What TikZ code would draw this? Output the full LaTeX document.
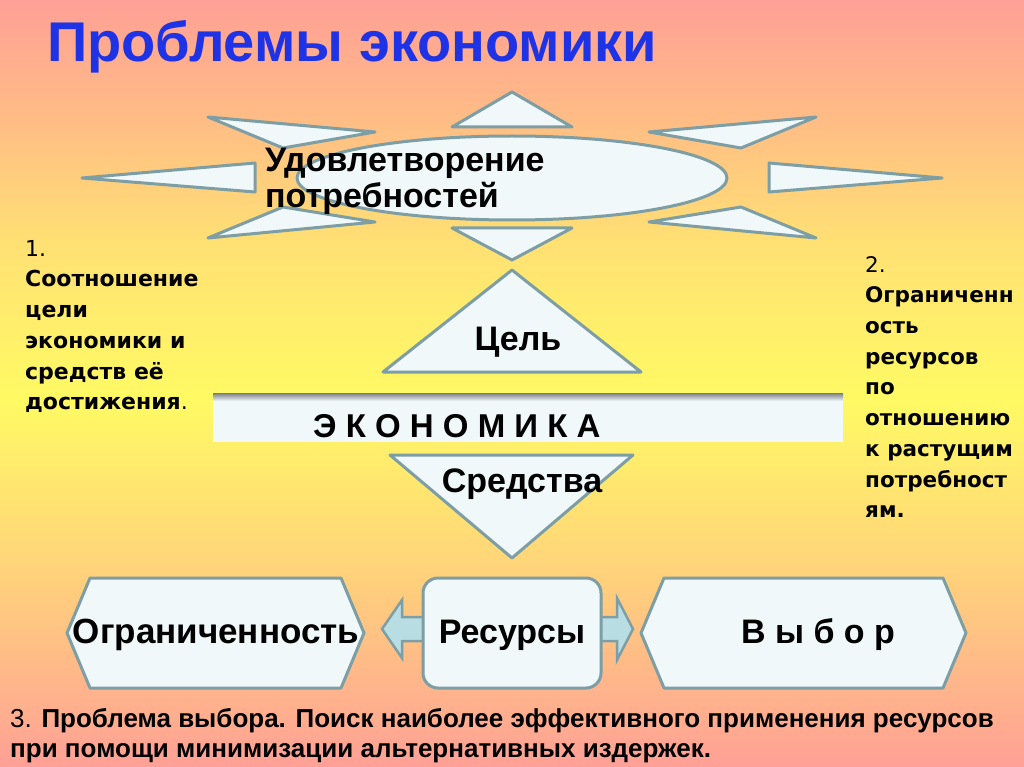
\documentclass[tikz,border=0pt]{standalone}
\usepackage{fontspec}
\setmainfont{Liberation Sans}
\newfontfamily\dejavu{DejaVu Sans}
\usetikzlibrary{calc,shapes.geometric}
\definecolor{bgtop}{RGB}{255,160,150}
\definecolor{bgA}{RGB}{255,185,135}
\definecolor{bgB}{RGB}{255,225,115}
\definecolor{bgY}{RGB}{255,250,100}
\definecolor{bgC}{RGB}{255,215,120}
\definecolor{bgbot}{RGB}{255,160,150}
\definecolor{shfill}{RGB}{240,248,250}
\definecolor{shline}{RGB}{125,158,165}
\definecolor{arrfill}{RGB}{184,222,228}
\definecolor{titleblue}{RGB}{30,50,230}
\definecolor{barshadow}{RGB}{120,125,130}
\pgfdeclareverticalshading{bgshade}{100bp}{color(0bp)=(bgbot); color(25bp)=(bgbot); color(39bp)=(bgC); color(49bp)=(bgY); color(59bp)=(bgB); color(68bp)=(bgA); color(75bp)=(bgtop); color(100bp)=(bgtop)}
\begin{document}
\begin{tikzpicture}[x=1pt,y=-1pt,
  sunpart/.style={fill=shfill, draw=shline, line width=3pt, line join=round},
  arrpart/.style={fill=arrfill, draw=shline, line width=2.5pt, line join=miter},
  lbl/.style={inner sep=0pt, font=\bfseries\fontsize{34}{40}\selectfont},
  side/.style={inner sep=0pt, align=left, font=\dejavu\fontsize{21.5}{30.7}\selectfont}]
\shade[shading=bgshade] (0,0) rectangle (1024,767);
\useasboundingbox (0,0) rectangle (1024,767);

% title
\node[anchor=base west, inner sep=0pt, text=titleblue, font=\bfseries\fontsize{56}{60}\selectfont] (title) at (47,62) {Проблемы экономики};

% sun rays
\path[sunpart] (512,92) -- (572,127) -- (452,127) -- cycle;
\path[sunpart] (452,228) -- (572,228) -- (512,260) -- cycle;
\path[sunpart] (82,178) -- (255,163) -- (255,192) -- cycle;
\path[sunpart] (942,178) -- (769,163) -- (769,192) -- cycle;
\path[sunpart] (208,117) -- (375,132) -- (283,148) -- cycle;
\path[sunpart] (816,117) -- (649,132) -- (741,148) -- cycle;
\path[sunpart] (208,238) -- (375,222) -- (283,207) -- cycle;
\path[sunpart] (816,238) -- (649,222) -- (741,207) -- cycle;
\node[sunpart, ellipse, minimum width=430pt, minimum height=84pt, inner sep=0pt] (sun) at (512,178) {};
\node[lbl, anchor=base west] (need1) at (265,172) {Удовлетворение};
\node[lbl, anchor=base west] (need2) at (265,208) {потребностей};

% goal triangle
\path[sunpart] (512,270) -- (641,372) -- (383,372) -- cycle;
\node[lbl, anchor=base] (goal) at (518,350) {Цель};

% economy bar
\path[fill=shfill] (213,393) rectangle (843,442);
\shade[top color=barshadow, bottom color=shfill] (213,393) rectangle (843,401);
\node[anchor=base west, inner sep=0pt, font=\bfseries\fontsize{33}{36}\selectfont] (econ) at (313,437) {Э К О Н О М И К А};

% means triangle
\path[sunpart] (390,455) -- (633,455) -- (512,558) -- cycle;
\node[lbl, anchor=base] (means) at (522,492) {Средства};

% double arrow
\coordinate (arrL) at (382,629);
\coordinate (arrR) at (633,629);
\path[arrpart] (arrL) -- ++(20,-29) -- ++(0,17) -- ++(215,0) -- ++(0,-19) -- (arrR) -- ++(-16,31) -- ++(0,-19) -- ++(-215,0) -- ++(0,17) -- cycle;

% bottom shapes
\path[sunpart] (67,633) -- (90,578) -- (341,578) -- (364,633) -- (341,688) -- (90,688) -- cycle;
\node[lbl, anchor=base, font=\bfseries\fontsize{35}{40}\selectfont] (limit) at (216,643) {Ограниченность};
\node[sunpart, rounded corners=15pt, minimum width=178pt, minimum height=110pt, inner sep=0pt] (resbox) at (512,633) {};
\node[lbl, anchor=base] (res) at (512,643) {Ресурсы};
\path[sunpart] (641,633) -- (664,578) -- (943,578) -- (966,633) -- (943,688) -- (664,688) -- cycle;
\node[lbl, anchor=base] (choice) at (818,643) {В ы б о р};

% side texts
\node[side, anchor=north west, font=\dejavu\fontsize{22}{30.7}\selectfont] (left) at (25,240) {1.\\\textbf{Соотношение}\\\textbf{цели}\\\textbf{экономики и}\\\textbf{средств её}\\\textbf{достижения}.};
\node[side, anchor=north west] (right) at (865,256) {2.\\\textbf{Ограниченн}\\\textbf{ость}\\\textbf{ресурсов}\\\textbf{по}\\\textbf{отношению}\\\textbf{к растущим}\\\textbf{потребност}\\\textbf{ям.}};

% bottom text
\node[anchor=base west, inner sep=0pt, font=\fontsize{26}{30}\selectfont] (note1) at (10,727) {3. \textbf{Проблема выбора. Поиск наиболее эффективного применения ресурсов}};
\node[anchor=base west, inner sep=0pt, font=\bfseries\fontsize{26}{30}\selectfont] (note2) at (10,757) {при помощи минимизации альтернативных издержек.};
\end{tikzpicture}
\end{document}
